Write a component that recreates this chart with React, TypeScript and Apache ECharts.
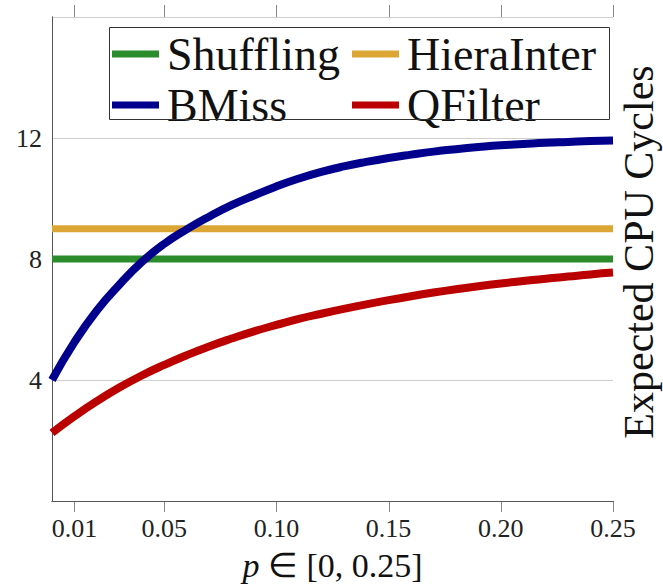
import React, { useEffect, useRef } from "react";
import * as echarts from "echarts";

const pValues = [
  0, 0.01, 0.02, 0.03, 0.04, 0.05, 0.06, 0.07, 0.08, 0.09, 0.1, 0.11, 0.12, 0.13, 0.14, 0.15, 0.16, 0.17, 0.18, 0.19,
  0.2, 0.21, 0.22, 0.23, 0.24, 0.25,
];
const shuffling = [8, 8, 8, 8, 8, 8, 8, 8, 8, 8, 8, 8, 8, 8, 8, 8, 8, 8, 8, 8, 8, 8, 8, 8, 8, 8];
const hieraInter = [9, 9, 9, 9, 9, 9, 9, 9, 9, 9, 9, 9, 9, 9, 9, 9, 9, 9, 9, 9, 9, 9, 9, 9, 9, 9];
const bMiss = [
  4.0, 5.25, 6.3, 7.15, 7.9, 8.5, 8.98, 9.4, 9.78, 10.1, 10.4, 10.66, 10.88, 11.06, 11.21, 11.34, 11.45, 11.55,
  11.63, 11.7, 11.76, 11.8, 11.84, 11.87, 11.9, 11.92,
];
const qFilter = [
  2.25, 2.8, 3.3, 3.75, 4.15, 4.5, 4.82, 5.11, 5.37, 5.61, 5.82, 6.02, 6.19, 6.35, 6.5, 6.64, 6.77, 6.89, 7.0, 7.1,
  7.19, 7.27, 7.35, 7.42, 7.49, 7.55,
];

const xTickValues = [0.01, 0.05, 0.1, 0.15, 0.2, 0.25];
const yTickValues = [4, 8, 12];

const seriesNames = ["Shuffling", "HieraInter", "BMiss", "QFilter"];
const seriesColors = ["#2a8c2a", "#dca634", "#00008c", "#bb0000"];
const seriesWidths = [7, 7, 8, 8];
const seriesValues = [shuffling, hieraInter, bMiss, qFilter];

const xTitle = "{i|p} ∈ [0, 0.25]";
const yTitle = "Expected CPU Cycles";

const FONT = "'Liberation Serif', 'Times New Roman', serif";
const TICK_COLOR = "#888";

export default function App() {
  const ref = useRef<HTMLDivElement>(null);
  useEffect(() => {
    if (!ref.current) return;
    const chart = echarts.init(ref.current, null, { renderer: "svg" });
    const legendCommon = {
      orient: "vertical",
      padding: 0,
      itemGap: 5,
      itemWidth: 47,
      itemHeight: 7,
      icon: "rect",
      textStyle: { fontFamily: FONT, fontSize: 46, color: "#111", lineHeight: 40, padding: [0, 0, 0, 3] },
    };
    const baseGraphic: any[] = [
      {
        id: "legendBox",
        type: "rect",
        shape: { x: 109.5, y: 27.5, width: 500, height: 92 },
        style: { fill: "none", stroke: "#333", lineWidth: 1 },
        z: 10,
      },
      {
        id: "yTitle",
        type: "text",
        x: 639,
        y: 252,
        rotation: Math.PI / 2,
        style: {
          text: yTitle,
          fontFamily: FONT,
          fontSize: 42,
          fill: "#111",
          align: "center",
          verticalAlign: "middle",
        },
        z: 10,
      },
    ];
    chart.setOption({
      animation: false,
      backgroundColor: "#fff",
      grid: { left: 52, right: 50, top: 17, bottom: 83, containLabel: false },
      graphic: baseGraphic,
      legend: [
        { ...legendCommon, left: 112, top: 31, data: [seriesNames[0], seriesNames[2]] },
        { ...legendCommon, left: 352, top: 31, data: [seriesNames[1], seriesNames[3]] },
      ],
      xAxis: [
        {
          type: "value",
          min: 0,
          max: 0.25,
          position: "bottom",
          name: xTitle,
          nameLocation: "middle",
          nameGap: 47,
          nameTextStyle: {
            fontFamily: FONT,
            fontSize: 34,
            color: "#111",
            rich: { i: { fontFamily: FONT, fontSize: 34, fontStyle: "italic", color: "#111" } },
          },
          axisLine: { show: true, lineStyle: { color: "#555", width: 1 } },
          axisTick: { show: false },
          axisLabel: {
            customValues: xTickValues,
            formatter: (v: number) => v.toFixed(2),
            fontFamily: FONT,
            fontSize: 26,
            color: "#222",
            margin: 14,
          },
          splitLine: { show: false },
        },
        {
          type: "value",
          min: 0,
          max: 0.25,
          position: "top",
          axisLine: { show: true, lineStyle: { color: "#555", width: 1 } },
          axisTick: { show: false },
          axisLabel: { show: false },
          splitLine: { show: false },
        },
      ],
      yAxis: [
        {
          type: "value",
          min: 0,
          max: 16,
          interval: 4,
          position: "left",
          axisLine: { show: true, lineStyle: { color: "#555", width: 1 } },
          axisTick: { show: false },
          axisLabel: {
            customValues: yTickValues,
            fontFamily: FONT,
            fontSize: 26,
            color: "#222",
            margin: 10,
          },
          splitLine: { show: true, lineStyle: { color: "#cfcfcf", width: 1 } },
        },
        {
          type: "value",
          min: 0,
          max: 16,
          interval: 4,
          position: "right",
          axisLine: { show: true, lineStyle: { color: "#555", width: 1 } },
          axisTick: { show: false },
          axisLabel: { show: false },
          splitLine: { show: false },
        },
      ],
      series: seriesNames.map((name, i) => ({
        name,
        type: "line",
        xAxisIndex: 0,
        yAxisIndex: 0,
        data: pValues.map((p, j) => [p, seriesValues[i][j]]),
        smooth: true,
        symbol: "none",
        lineStyle: { color: seriesColors[i], width: seriesWidths[i], cap: "butt" },
        itemStyle: { color: seriesColors[i] },
      })),
    });

    // tick marks at the custom tick values, placed through the axis scales
    const yBottom = chart.convertToPixel({ yAxisIndex: 0 }, 0) as number;
    const yTop = chart.convertToPixel({ yAxisIndex: 0 }, 16) as number;
    const tickGraphics: any[] = [];
    xTickValues.forEach((v, k) => {
      const px = Math.round(chart.convertToPixel({ xAxisIndex: 0 }, v) as number) + 0.5;
      tickGraphics.push({
        id: "tb" + k,
        type: "line",
        shape: { x1: px, y1: yBottom, x2: px, y2: yBottom + 11 },
        style: { stroke: TICK_COLOR, lineWidth: 1 },
        silent: true,
      });
      tickGraphics.push({
        id: "tt" + k,
        type: "line",
        shape: { x1: px, y1: yTop, x2: px, y2: yTop - 12 },
        style: { stroke: TICK_COLOR, lineWidth: 1 },
        silent: true,
      });
    });
    chart.setOption({ graphic: [...baseGraphic, ...tickGraphics] });

    return () => chart.dispose();
  }, []);
  return <div ref={ref} style={{ position: "absolute", left: 0, top: 0, width: 663, height: 587 }} />;
}
